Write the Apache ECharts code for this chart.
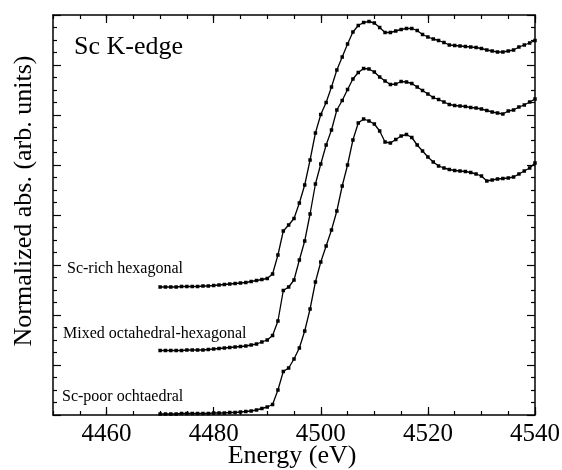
<!DOCTYPE html>
<html>
<head>
<meta charset="utf-8">
<script src="https://cdn.jsdelivr.net/npm/echarts@6/dist/echarts.min.js"></script>
<style>
  html, body { margin: 0; padding: 0; background: #fff; }
  #chart { width: 562px; height: 470px; }
</style>
</head>
<body>
<div id="chart"></div>
<script>
// photon energy (eV)
const energy = [
  4470, 4471, 4472, 4473, 4474, 4475, 4476, 4477, 4478, 4479,
  4480, 4481, 4482, 4483, 4484, 4485, 4486, 4487, 4488, 4489,
  4490, 4491, 4492, 4493, 4494, 4495, 4496, 4497, 4498, 4499,
  4500, 4501, 4502, 4503, 4504, 4505, 4506, 4507, 4508, 4509,
  4510, 4511, 4512, 4513, 4514, 4515, 4516, 4517, 4518, 4519,
  4520, 4521, 4522, 4523, 4524, 4525, 4526, 4527, 4528, 4529,
  4530, 4531, 4532, 4533, 4534, 4535, 4536, 4537, 4538, 4539,
  4540
];
// normalized absorption, curves offset vertically
const scRich = [
  2.56, 2.56, 2.56, 2.56, 2.57, 2.57, 2.57, 2.57, 2.58, 2.58,
  2.59, 2.60, 2.61, 2.62, 2.63, 2.64, 2.65, 2.67, 2.69, 2.71,
  2.73, 2.82, 3.20, 3.68, 3.80, 3.93, 4.24, 4.60, 5.10, 5.64,
  6.01, 6.25, 6.56, 6.90, 7.16, 7.42, 7.66, 7.79, 7.85, 7.87,
  7.84, 7.75, 7.65, 7.65, 7.68, 7.71, 7.73, 7.73, 7.69, 7.61,
  7.56, 7.52, 7.49, 7.45, 7.40, 7.39, 7.38, 7.37, 7.36, 7.35,
  7.33, 7.30, 7.28, 7.26, 7.26, 7.28, 7.30, 7.36, 7.40, 7.44,
  7.49
];
const mixed = [
  1.29, 1.29, 1.29, 1.29, 1.29, 1.30, 1.30, 1.30, 1.30, 1.31,
  1.32, 1.33, 1.34, 1.35, 1.36, 1.37, 1.38, 1.40, 1.42, 1.46,
  1.50, 1.59, 1.88, 2.49, 2.56, 2.70, 3.10, 3.48, 4.02, 4.62,
  5.02, 5.40, 5.70, 6.10, 6.29, 6.51, 6.72, 6.85, 6.93, 6.92,
  6.86, 6.76, 6.68, 6.61, 6.62, 6.67, 6.66, 6.63, 6.56, 6.49,
  6.42, 6.35, 6.31, 6.26, 6.21, 6.19, 6.18, 6.17, 6.15, 6.14,
  6.12, 6.09, 6.06, 6.04, 6.02, 6.08, 6.10, 6.16, 6.20, 6.26,
  6.32
];
const scPoor = [
  0.02, 0.02, 0.02, 0.02, 0.03, 0.03, 0.03, 0.03, 0.03, 0.03,
  0.04, 0.04, 0.04, 0.05, 0.05, 0.06, 0.07, 0.08, 0.10, 0.13,
  0.16, 0.21, 0.50, 0.87, 0.94, 1.12, 1.34, 1.68, 2.12, 2.66,
  3.06, 3.38, 3.70, 4.08, 4.58, 5.00, 5.50, 5.84, 5.92, 5.88,
  5.82, 5.68, 5.46, 5.44, 5.51, 5.58, 5.61, 5.55, 5.40, 5.28,
  5.16, 5.06, 4.98, 4.94, 4.91, 4.89, 4.88, 4.87, 4.85, 4.82,
  4.78, 4.68, 4.70, 4.72, 4.73, 4.74, 4.76, 4.82, 4.88, 4.94,
  5.04
];
const xTicks = [4460, 4480, 4500, 4520, 4540];
const curveNames = ['Sc-rich hexagonal', 'Mixed octahedral-hexagonal', 'Sc-poor ochtaedral'];

const serif = '"Liberation Serif", "Times New Roman", serif';
const black = '#000';

function pairs(ys) {
  return energy.map((e, i) => [e, ys[i]]);
}

function lineSeries(name, ys) {
  return {
    name: name,
    type: 'line',
    data: pairs(ys),
    symbol: 'rect',
    symbolSize: 3.5,
    showAllSymbol: true,
    itemStyle: { color: black },
    lineStyle: { color: black, width: 1.3 },
    silent: true
  };
}

// x axes: two for the minor (5 eV) ticks, two for the long 20 eV ticks
function xAxisDef(pos, major) {
  let ax = {
    type: 'value',
    position: pos,
    min: 4450,
    max: 4540,
    splitLine: { show: false },
    axisLine: { show: !major, lineStyle: { color: black, width: 1.5 } },
    axisLabel: { show: false },
    axisTick: { inside: true, length: 4, lineStyle: { color: black, width: 1.2 } }
  };
  if (major) {
    ax.axisTick = { inside: true, length: 8, customValues: xTicks, lineStyle: { color: black, width: 1.2 } };
  } else {
    ax.interval = 5;
  }
  return ax;
}

let xBottom = xAxisDef('bottom', false);
xBottom.axisLabel = {
  show: true,
  customValues: xTicks,
  formatter: v => String(v),
  color: black,
  fontFamily: serif,
  fontSize: 25,
  margin: 7
};

function yAxisDef(pos) {
  return {
    type: 'value',
    position: pos,
    min: 0,
    max: 8,
    interval: 1,
    splitLine: { show: false },
    axisLine: { show: true, lineStyle: { color: black, width: 1.5 } },
    axisLabel: { show: false },
    axisTick: { inside: true, length: 8, lineStyle: { color: black, width: 1.2 } },
    minorTick: { show: true, splitNumber: 4, length: 4, lineStyle: { color: black, width: 1.2 } },
    minorSplitLine: { show: false }
  };
}

function label(text, x, y, size) {
  return {
    type: 'text', x: x, y: y,
    style: { text: text, font: size + 'px ' + serif, fill: black, align: 'left', verticalAlign: 'middle' }
  };
}

let chart = echarts.init(document.getElementById('chart'), null, { renderer: 'canvas' });
chart.setOption({
  animation: false,
  backgroundColor: '#fff',
  grid: { left: 53, right: 27, top: 15, bottom: 55, containLabel: false, outerBoundsMode: 'none' },
  xAxis: [xBottom, xAxisDef('bottom', true), xAxisDef('top', false), xAxisDef('top', true)],
  yAxis: [yAxisDef('left'), yAxisDef('right')],
  series: [
    lineSeries(curveNames[0], scRich),
    lineSeries(curveNames[1], mixed),
    lineSeries(curveNames[2], scPoor)
  ],
  graphic: [
    {
      type: 'text', x: 24, y: 201, rotation: Math.PI / 2,
      style: { text: 'Normalized abs. (arb. units)', font: '26px ' + serif, fill: black, align: 'center', verticalAlign: 'middle' }
    },
    {
      type: 'text', x: 292, y: 456,
      style: { text: 'Energy (eV)', font: '26px ' + serif, fill: black, align: 'center', verticalAlign: 'middle' }
    },
    label('Sc K-edge', 74, 47, 26),
    label(curveNames[0], 67, 269, 16),
    label(curveNames[1], 63, 334, 16),
    label(curveNames[2], 62, 397, 16)
  ]
});
</script>
</body>
</html>
